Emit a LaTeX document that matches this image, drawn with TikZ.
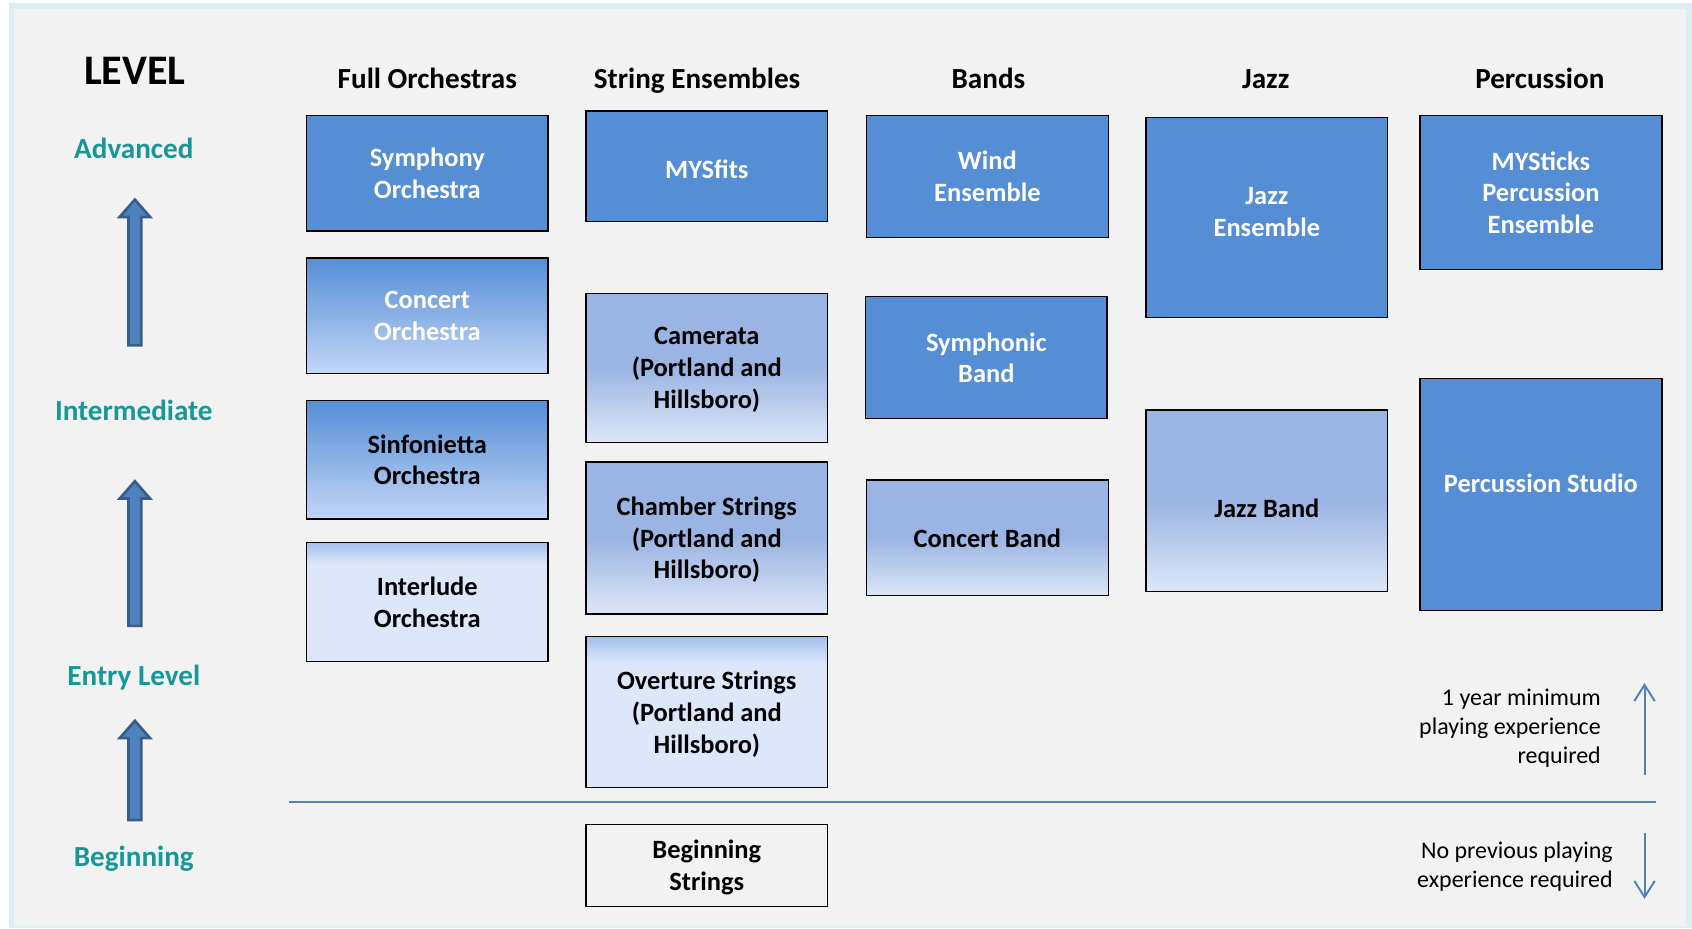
\documentclass[tikz,border=0pt]{standalone}
\usepackage{fontspec}
\setmainfont{Carlito}
\usetikzlibrary{arrows.meta}

\definecolor{framecol}{RGB}{218,238,243}
\definecolor{paper}{RGB}{242,242,242}
\definecolor{solidblue}{RGB}{85,142,213}
\definecolor{darklow}{RGB}{194,214,247}
\definecolor{midtop}{RGB}{154,181,227}
\definecolor{midlow}{RGB}{221,230,246}
\definecolor{entrytop}{RGB}{164,191,238}
\definecolor{entrypale}{RGB}{221,231,249}
\definecolor{levelteal}{RGB}{23,152,152}
\definecolor{arrowfill}{RGB}{79,129,189}
\definecolor{arrowedge}{RGB}{56,93,138}

\pgfdeclareverticalshading{midshade}{100bp}{color(0bp)=(midlow); color(25bp)=(midlow); color(50bp)=(midtop); color(100bp)=(midtop)}
\pgfdeclareverticalshading{entryshade}{100bp}{color(0bp)=(entrypale); color(25bp)=(entrypale); color(66bp)=(entrypale); color(75bp)=(entrytop); color(100bp)=(entrytop)}

\tikzset{
	box/.style={draw=black, line width=1.3pt, minimum width=224pt, align=center, text depth=0pt,
		font=\fontsize{24.5}{29.4}\selectfont\bfseries},
	solidbox/.style={box, fill=solidblue, text=white},
	darkbox/.style={box, top color=solidblue, bottom color=darklow},
	midbox/.style={box, shade, shading=midshade},
	entrybox/.style={box, shade, shading=entryshade},
	header/.style={anchor=base, font=\fontsize{27}{32}\selectfont\bfseries},
	levelname/.style={anchor=base, font=\fontsize{27}{32}\selectfont\bfseries, text=levelteal},
	note/.style={align=right, anchor=east, font=\fontsize{22.2}{27}\selectfont},
	lvlarrow/.style={fill=arrowfill, draw=arrowedge, line width=2.5pt, line join=miter},
	notearrow/.style={draw=arrowfill, line width=1.8pt, -{Straight Barb[length=15pt,width=19pt]}}
}

\begin{document}
\begin{tikzpicture}[x=1pt, y=-1pt]
		\useasboundingbox (0,0) rectangle (1568,860);
		\fill[white] (0,0) rectangle (1568,860);
		\fill[framecol] (8,3) rectangle (1568,860);
		\fill[paper] (13,8) rectangle (1562,858);
		
		\node[font=\fontsize{39}{46}\selectfont\bfseries] (level) at (125,66) {LEVEL};
		\node[levelname] (advanced) at (124,147) {Advanced};
		\node[levelname] (intermediate) at (124,390) {Intermediate};
		\node[levelname] (entry) at (124,635) {Entry Level};
		\node[levelname] (beginning) at (124,803) {Beginning};
		
		\foreach \ybot/\ytip in {320/185, 580/446, 760/668}
			\draw[lvlarrow] (119,\ybot) -- (119,\ytip+16) -- (111,\ytip+16) -- (125,\ytip)
			-- (139,\ytip+16) -- (131,\ytip+16) -- (131,\ybot) -- cycle;
		
		\node[header] (hfull) at (396,82) {Full Orchestras};
		\node[header] (hstrings) at (646,82) {String Ensembles};
		\node[header] (hbands) at (916,82) {Bands};
		\node[header] (hjazz) at (1173,82) {Jazz};
		\node[header] (hperc) at (1427,82) {Percussion};
		
		\node[solidbox, minimum height=107pt] (symphony) at (396,160.5) {Symphony\\Orchestra};
		\node[darkbox, text=white, minimum height=107pt] (concorch) at (396,292.5) {Concert\\Orchestra};
		\node[darkbox, minimum height=110pt] (sinfonietta) at (396,426) {Sinfonietta\\Orchestra};
		\node[entrybox, minimum height=110pt] (interlude) at (396,558) {Interlude\\Orchestra};
		
		\node[solidbox, minimum height=102pt, text height=23pt] (mysfits) at (655,154) {MYSfits};
		\node[midbox, minimum height=138pt] (camerata) at (655,341) {Camerata\\(Portland and\\Hillsboro)};
		\node[midbox, minimum height=141pt] (chamber) at (655,498.5) {Chamber Strings\\(Portland and\\Hillsboro)};
		\node[entrybox, minimum height=140pt] (overture) at (655,660) {Overture Strings\\(Portland and\\Hillsboro)};
		\node[box, minimum height=76pt] (begstrings) at (655,802) {Beginning\\Strings};
		
		\node[solidbox, minimum height=113pt] (wind) at (915,163.5) {Wind\\Ensemble};
		\node[solidbox, minimum height=113pt] (symphonic) at (914,331.5) {Symphonic\\Band};
		\node[midbox, minimum height=107pt] (concband) at (915,498.5) {Concert Band};
		
		\node[solidbox, minimum height=185pt, text depth=10pt] (jazzens) at (1174,201.5) {Jazz\\Ensemble};
		\node[midbox, minimum height=168pt, text height=31pt] (jazzband) at (1174,464) {Jazz Band};
		
		\node[solidbox, minimum height=143pt] (mysticks) at (1428,178.5) {MYSticks\\Percussion\\Ensemble};
		\node[solidbox, minimum height=215pt, text depth=22pt] (percstudio) at (1428,458.5) {Percussion Studio};
		
		\coordinate (ruleleft) at (268,743);
		\coordinate (ruleright) at (1535,743);
		\draw[arrowfill, line width=1.6pt] (ruleleft) -- (ruleright);
		
		\node[note] (noteup) at (1487,675) {1 year minimum\\playing experience\\required};
		\node[note] (notedown) at (1498,803) {No previous playing\\experience required};
		
		\coordinate (upfoot) at (1524,718);
		\coordinate (uptip) at (1524,633);
		\coordinate (downfoot) at (1524,772);
		\coordinate (downtip) at (1524,833);
		\draw[notearrow] (upfoot) -- (uptip);
		\draw[notearrow] (downfoot) -- (downtip);
		
\end{tikzpicture}
\end{document}
